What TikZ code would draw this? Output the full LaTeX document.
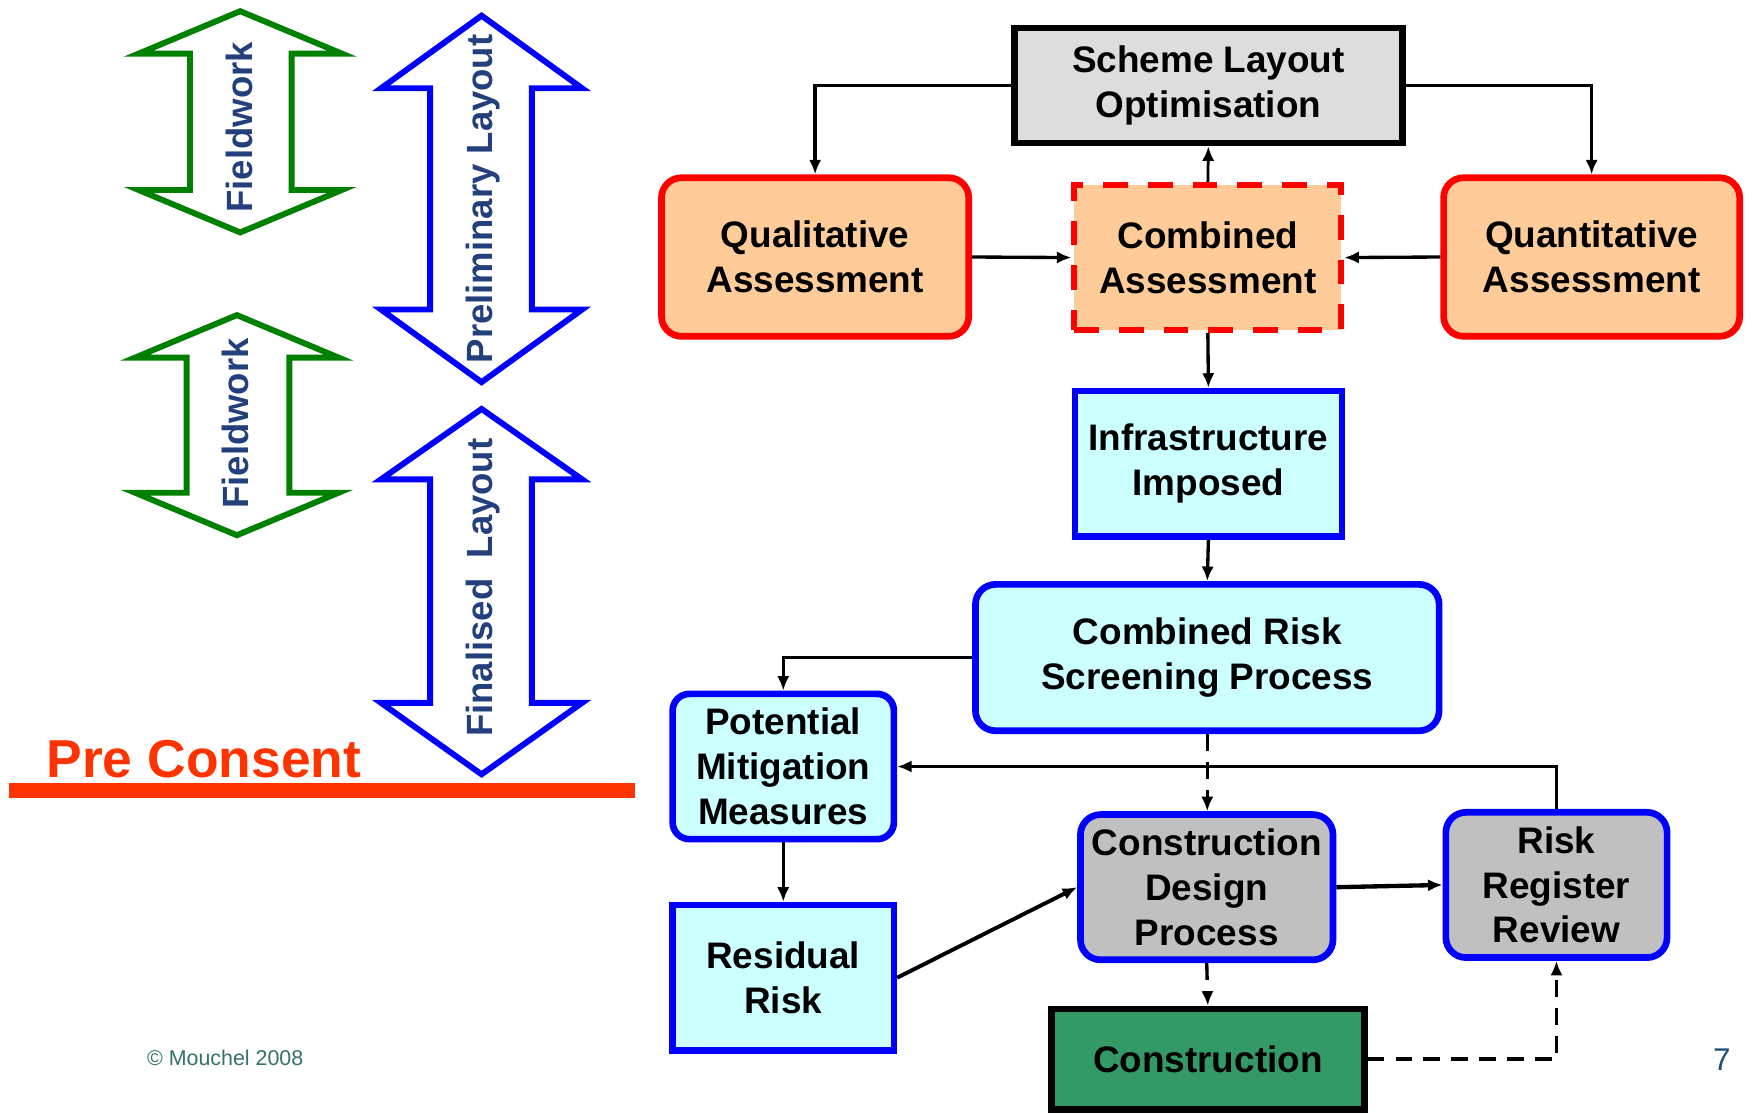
\documentclass[tikz,border=0pt]{standalone}
\usepackage{fontspec}
\setmainfont{Liberation Sans}
\usetikzlibrary{arrows.meta}
\tikzset{>=Latex}
\definecolor{peach}{HTML}{FFCC99}
\definecolor{paleblue}{HTML}{CCFFFF}
\definecolor{midgray}{HTML}{C0C0C0}
\definecolor{ltgray}{HTML}{DDDDDD}
\definecolor{consgreen}{HTML}{339966}
\definecolor{fwgreen}{HTML}{008000}
\definecolor{navy}{RGB}{36,64,124}
\definecolor{preorange}{HTML}{FF3300}
\definecolor{teal}{RGB}{52,112,108}
\definecolor{pagenum}{RGB}{31,78,121}
\tikzstyle{arw}=[-{Latex[length=1.3mm,width=1.1mm]}, line width=0.85pt]
\tikzstyle{darw}=[arw, dash pattern=on 1.5mm off 1mm]
\tikzstyle{box}=[draw, line width=1.7pt, align=center, inner sep=0.5mm,
  font=\fontsize{9.4}{11.4}\selectfont\bfseries]
\tikzstyle{rbox}=[box, rounded corners=1.8mm]
\tikzstyle{big}=[line width=1.5pt, line join=miter, fill=white]
\tikzstyle{lbl}=[rotate=90, text=navy, inner sep=0, font=\fontsize{9.3}{11}\selectfont\bfseries]

\begin{document}
\begin{tikzpicture}[x=0.1mm, y=-0.1mm]
    \useasboundingbox (0,0) rectangle (1568,997);

    % left hand side: stage arrows
    \draw[big, draw=fwgreen] (215,10) -- (306,48) -- (261,48) -- (261,170) -- (306,170) -- (215,208)
        -- (124,170) -- (170,170) -- (170,48) -- (124,48) -- cycle;
    \draw[big, draw=fwgreen] (212,282) -- (303,320) -- (259,320) -- (259,441) -- (303,441) -- (212,479)
        -- (121,441) -- (167,441) -- (167,320) -- (121,320) -- cycle;
    \draw[big, draw=blue] (431,14) -- (521,79) -- (476,79) -- (476,277) -- (521,277) -- (431,342)
        -- (341,277) -- (385,277) -- (385,79) -- (341,79) -- cycle;
    \draw[big, draw=blue] (431,366) -- (521,429) -- (476,429) -- (476,629) -- (521,629) -- (431,693)
        -- (341,629) -- (385,629) -- (385,429) -- (341,429) -- cycle;
    \node[lbl] (fw1) at (214,114) {Fieldwork};
    \node[lbl] (fw2) at (211,379) {Fieldwork};
    \node[lbl] (prel) at (432,178) {Preliminary Layout};
    \node[lbl] (fin) at (432,526) {Finalised\ \ Layout};

    \node[anchor=base west, inner sep=0, text=preorange, font=\fontsize{13.6}{16}\selectfont\bfseries] (pc) at (41,696) {Pre Consent};
    \draw[preorange, line width=3.7pt] (8,707.5) -- (568,707.5);
    \node[anchor=base west, inner sep=0, text=teal, font=\fontsize{5.45}{6.5}\selectfont] (copy) at (131,954) {© Mouchel 2008};
    \node[text=pagenum, inner sep=0, font=\fontsize{8}{9}\selectfont] (pg) at (1541,948) {7};

    % flow chart
    \node[box, fill=ltgray, minimum width=34.7mm, minimum height=10.3mm] (slo) at (1081.5,76.5) {Scheme Layout\\Optimisation};
    \node[rbox, draw=red, fill=peach, minimum width=27.5mm, minimum height=14.2mm] (qual) at (729.5,230) {Qualitative\\Assessment};
    \node[box, draw=red, fill=peach, line width=1.5pt, dash pattern=on 2.2mm off 1.8mm, minimum width=23.9mm, minimum height=13mm] (comb) at (1081,230.5) {Combined\\Assessment};
    \node[rbox, draw=red, fill=peach, minimum width=26.5mm, minimum height=14.2mm] (quant) at (1424.5,230) {Quantitative\\Assessment};
    \node[box, draw=blue, fill=paleblue, minimum width=23.9mm, minimum height=13mm] (infra) at (1081.5,415) {Infrastructure\\Imposed};
    \node[rbox, draw=blue, fill=paleblue, minimum width=41.5mm, minimum height=13.1mm] (crsp) at (1080.5,588.5) {Combined Risk\\Screening Process};
    \node[rbox, draw=blue, fill=paleblue, rounded corners=1.5mm, minimum width=19.8mm, minimum height=13mm] (pmm) at (701,686) {Potential\\Mitigation\\Measures};
    \node[box, draw=blue, fill=paleblue, minimum width=19.8mm, minimum height=13mm] (res) at (701,875) {Residual\\Risk};
    \node[rbox, draw=blue, fill=midgray, minimum width=22.6mm, minimum height=13mm] (cdp) at (1080,794) {Construction\\Design\\Process};
    \node[rbox, draw=blue, fill=midgray, minimum width=19.8mm, minimum height=13mm] (rrr) at (1393,792) {Risk\\Register\\Review};
    \node[box, fill=consgreen, minimum width=28mm, minimum height=9mm] (cons) at (1081,948) {Construction};

    \draw[arw] (slo.west) -| (qual.north);
    \draw[arw] (slo.east) -| (quant.north);
    \draw[arw, line width=0.7pt] (comb.north) -- (slo.south);
    \draw[arw] (qual.east) -- (comb.west);
    \draw[arw] (quant.west) -- (comb.east);
    \draw[arw] (comb.south) -- (infra.north);
    \draw[arw] (infra.south) -- (crsp.north);
    \draw[arw] (crsp.west) -| (pmm.north);
    \draw[darw] (crsp.south) -- (crsp.south |- cdp.north);
    \draw[arw] (rrr.north) |- (pmm.east);
    \draw[arw] (pmm.south) -- (res.north);
    \draw[arw, line width=1pt] (res.east) -- (cdp.west);
    \draw[arw, line width=1.1pt] (cdp.east) -- (rrr.west);
    \draw[darw] (cdp.south) -- (cons.north);
    \draw[darw, line width=1pt] (cons.east) -| (rrr.south);
\end{tikzpicture}
\end{document}
